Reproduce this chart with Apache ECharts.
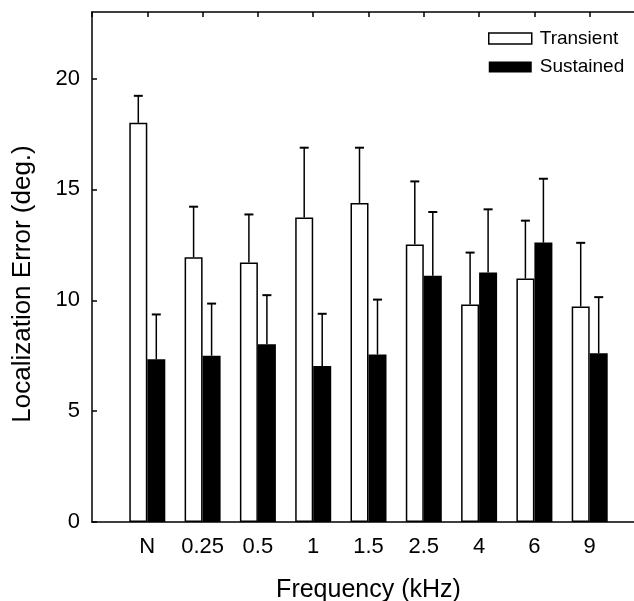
<!DOCTYPE html>
<html>
<head>
<meta charset="utf-8">
<script src="https://cdn.jsdelivr.net/npm/echarts@6/dist/echarts.min.js"></script>
<style>
html,body{margin:0;padding:0;background:#fff;}
#chart{width:634px;height:601px;}
</style>
</head>
<body>
<div id="chart"></div>
<script>
const categories = ['N', '0.25', '0.5', '1', '1.5', '2.5', '4', '6', '9'];
const transientMean = [18.0, 11.94, 11.70, 13.73, 14.39, 12.51, 9.81, 10.98, 9.72];
const transientErr  = [1.22, 2.28, 2.17, 3.15, 2.49, 2.85, 2.34, 2.61, 2.87];
const sustainedMean = [7.34, 7.50, 8.02, 7.03, 7.55, 11.10, 11.25, 12.60, 7.61];
const sustainedErr  = [2.02, 2.35, 2.21, 2.36, 2.48, 2.88, 2.85, 2.88, 2.53];
const yMin = 0, yMax = 23, yStep = 5;
const seriesNames = ['Transient', 'Sustained'];
const xTitle = 'Frequency (kHz)';
const yTitle = 'Localization Error (deg.)';

const FONT = '"Liberation Sans", Arial, Helvetica, sans-serif';
const BAR_W = 18;

// padded category list: empty slot at both ends of the axis
const padCats = [''].concat(categories, ['']);
const padData = arr => ['-'].concat(arr, ['-']);
const errData = (mean, err) => categories.map((c, i) => [i + 1, mean[i], mean[i] + err[i]]);

function errRenderer(offset) {
  return function (params, api) {
    const x = api.value(0);
    const lo = api.coord([x, api.value(1)]);
    const hi = api.coord([x, api.value(2)]);
    const cx = lo[0] + offset;
    return {
      type: 'group',
      children: [
        { type: 'line', shape: { x1: cx, y1: lo[1], x2: cx, y2: hi[1] }, style: { stroke: '#000', lineWidth: 1.5 } },
        { type: 'line', shape: { x1: cx - 4.5, y1: hi[1], x2: cx + 4.5, y2: hi[1] }, style: { stroke: '#000', lineWidth: 2 } }
      ]
    };
  };
}

const chart = echarts.init(document.getElementById('chart'), null, { renderer: 'canvas' });
chart.setOption({
  animation: false,
  backgroundColor: '#fff',
  textStyle: { fontFamily: FONT, color: '#000' },
  grid: { left: 92, top: 12, width: 553, height: 510, containLabel: false, outerBoundsMode: 'none' },
  legend: {
    orient: 'vertical',
    left: 488,
    top: 29,
    itemWidth: 43,
    itemHeight: 11,
    itemGap: 9.5,
    padding: 0,
    icon: 'rect',
    textStyle: { fontFamily: FONT, fontSize: 19, color: '#000', lineHeight: 19, padding: [0, 0, 0, 3] },
    data: [
      { name: seriesNames[0], itemStyle: { color: '#fff', borderColor: '#000', borderWidth: 1.5 } },
      { name: seriesNames[1], itemStyle: { color: '#000', borderColor: '#000', borderWidth: 0 } }
    ]
  },
  xAxis: [
    {
      type: 'category',
      data: padCats,
      boundaryGap: false,
      position: 'bottom',
      name: xTitle,
      nameLocation: 'middle',
      nameGap: 56,
      nameTextStyle: { fontFamily: FONT, fontSize: 25, color: '#000' },
      axisLine: { show: true, lineStyle: { color: '#000', width: 1.5 } },
      axisTick: { show: false },
      axisLabel: { interval: 0, margin: 14, fontFamily: FONT, fontSize: 22, color: '#000' },
      splitLine: { show: false }
    },
    {
      type: 'category',
      data: padCats,
      boundaryGap: false,
      position: 'top',
      axisLine: { show: true, lineStyle: { color: '#000', width: 1.5 } },
      axisTick: { show: true, inside: true, length: 5, interval: 0, lineStyle: { color: '#000', width: 1.5 } },
      axisLabel: { show: false },
      splitLine: { show: false }
    }
  ],
  yAxis: {
    type: 'value',
    min: yMin,
    max: yMax,
    interval: yStep,
    axisLine: { show: true, lineStyle: { color: '#000', width: 1.5 } },
    axisTick: { show: true, inside: true, length: 5, lineStyle: { color: '#000', width: 1.5 } },
    axisLabel: { margin: 12, fontFamily: FONT, fontSize: 22, color: '#000', showMaxLabel: false,
      formatter: v => (v % yStep === 0 ? String(v) : '') },
    splitLine: { show: false }
  },
  graphic: [
    {
      type: 'text',
      x: 23,
      y: 284,
      rotation: Math.PI / 2,
      style: { text: yTitle, fontFamily: FONT, fontSize: 26, fill: '#000', align: 'center', verticalAlign: 'middle' }
    }
  ],
  series: [
    {
      name: seriesNames[0],
      type: 'bar',
      xAxisIndex: 0,
      barWidth: BAR_W,
      barGap: '0%',
      itemStyle: { color: '#fff', borderColor: '#000', borderWidth: 1.5 },
      data: padData(transientMean),
      z: 2
    },
    {
      name: seriesNames[1],
      type: 'bar',
      xAxisIndex: 0,
      barWidth: BAR_W,
      barGap: '0%',
      itemStyle: { color: '#000', borderColor: '#000', borderWidth: 0 },
      data: padData(sustainedMean),
      z: 2
    },
    {
      type: 'custom',
      xAxisIndex: 0,
      renderItem: errRenderer(-BAR_W / 2),
      encode: { x: 0, y: [1, 2] },
      data: errData(transientMean, transientErr),
      z: 3
    },
    {
      type: 'custom',
      xAxisIndex: 0,
      renderItem: errRenderer(BAR_W / 2),
      encode: { x: 0, y: [1, 2] },
      data: errData(sustainedMean, sustainedErr),
      z: 3
    }
  ]
});
</script>
</body>
</html>
